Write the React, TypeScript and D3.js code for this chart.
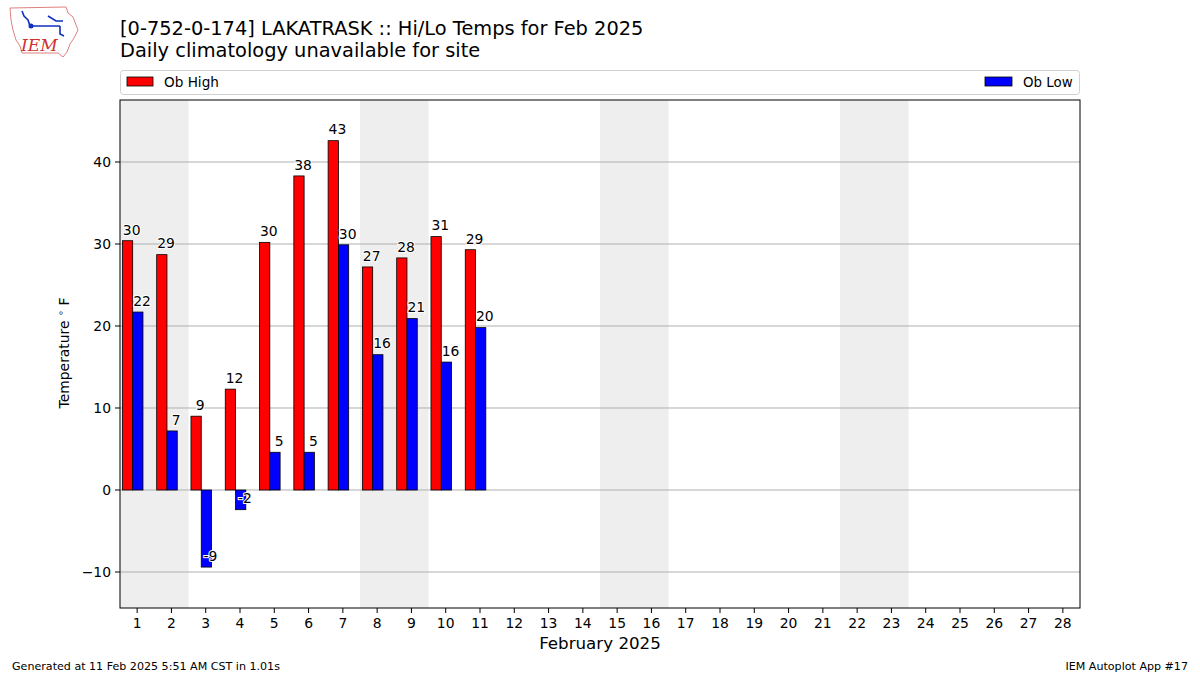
import React from "react";
import * as d3 from "d3";

const days: number[] = Array.from({ length: 28 }, (_, i) => i + 1);
const obDays: number[] = [1, 2, 3, 4, 5, 6, 7, 8, 9, 10, 11];
const obHigh: number[] = [30.4, 28.7, 9.0, 12.3, 30.2, 38.3, 42.6, 27.2, 28.3, 30.9, 29.3];
const obLow: number[] = [21.7, 7.2, -9.4, -2.4, 4.6, 4.6, 29.9, 16.5, 20.9, 15.6, 19.8];
const highLabels: string[] = ["30", "29", "9", "12", "30", "38", "43", "27", "28", "31", "29"];
const lowLabels: string[] = ["22", "7", "-9", "-2", "5", "5", "30", "16", "21", "16", "20"];
const weekendStarts: number[] = [1, 8, 15, 22];
const yTicks: number[] = [-10, 0, 10, 20, 30, 40];

const FONT = "DejaVu Sans, sans-serif";

export default function App() {
  const W = 1200, H = 675;
  const L = 120, R = 1080, T = 100, B = 608;
  const x = d3.scaleLinear().domain([0.5, 28.5]).range([L, R]);
  const y = d3.scaleLinear().domain([-14.39, 47.56]).range([B, T]);
  const bw = x(0.3) - x(0);

  return (
    <svg width={W} height={H} style={{ position: "absolute", left: 0, top: 0, background: "#fff" }} fontFamily={FONT}>
      <rect x={0} y={0} width={W} height={H} fill="#fff" />
      {/* logo */}
      <g>
        <path d="M10,8 L66,7 L68,13 L73,17 L78,30 L74,38 L70,44 L67,52 L63,57 L58,53 L22,53 L20,46 L16,40 L13,30 L11,20 Z" fill="#fff" stroke="#e08080" strokeWidth={1} />
        <path d="M22,11 L24,16 L28,20 L30,26 M30,26 L60,26 M48,16 L56,21 L63,21 M60,26 L60,34 L64,36" stroke="#1030c0" strokeWidth={1.6} fill="none" />
        <circle cx={31} cy={26} r={2.5} fill="#1030c0" />
        <text x={21} y={51} fontFamily="DejaVu Serif, serif" fontStyle="italic" fontSize={17} fill="#d03030">IEM</text>
      </g>
      {/* titles */}
      <text x={120} y={35} fontSize={19.4} fill="#000">[0-752-0-174] LAKATRASK :: Hi/Lo Temps for Feb 2025</text>
      <text x={120} y={57} fontSize={19.4} fill="#000">Daily climatology unavailable for site</text>
      {/* legend */}
      <rect x={120.5} y={70.5} width={959} height={24} rx={3} fill="#fff" stroke="#d0d0d0" />
      <rect x={127} y={77} width={26} height={9} fill="#ff0000" stroke="#000" strokeWidth={0.8} />
      <text x={164} y={86.5} fontSize={13.6} fill="#000">Ob High</text>
      <rect x={985} y={77} width={27} height={9} fill="#0000ff" stroke="#000" strokeWidth={0.8} />
      <text x={1023} y={86.5} fontSize={13.4} fill="#000">Ob Low</text>
      {/* weekend shading */}
      {weekendStarts.map((d) => (
        <rect key={d} x={x(d - 0.5)} y={T} width={x(d + 1.5) - x(d - 0.5)} height={B - T} fill="#eeeeee" />
      ))}
      {/* gridlines */}
      {yTicks.map((t) => (
        <line key={t} x1={L} x2={R} y1={y(t)} y2={y(t)} stroke="#b0b0b0" strokeWidth={1} />
      ))}
      {/* bars */}
      {obDays.map((d, i) => {
        const v = obHigh[i];
        const x0 = x(d - 0.43);
        return (
          <rect key={"h" + d} x={x0} y={Math.min(y(v), y(0))} width={bw} height={Math.abs(y(v) - y(0))} fill="#ff0000" stroke="#000" strokeWidth={0.8} />
        );
      })}
      {obDays.map((d, i) => {
        const v = obLow[i];
        const x0 = x(d - 0.13);
        return (
          <rect key={"l" + d} x={x0} y={Math.min(y(v), y(0))} width={bw} height={Math.abs(y(v) - y(0))} fill="#0000ff" stroke="#000" strokeWidth={0.8} />
        );
      })}
      {/* labels */}
      {obDays.map((d, i) => (
        <text key={"hl" + d} x={x(d - 0.13) - 1} y={y(obHigh[i] + 1) + 2} fontSize={13.9} textAnchor="middle" fill="#000" stroke="#fff" strokeWidth={2} paintOrder="stroke">{highLabels[i]}</text>
      ))}
      {obDays.map((d, i) => (
        <text key={"ll" + d} x={x(d + 0.17) - 1} y={y(obLow[i] + 1) + 2} fontSize={13.9} textAnchor="middle" fill="#000" stroke="#fff" strokeWidth={2} paintOrder="stroke">{lowLabels[i]}</text>
      ))}
      {/* frame */}
      <rect x={L} y={T} width={R - L} height={B - T} fill="none" stroke="#000" strokeWidth={1} />
      {/* y ticks */}
      {yTicks.map((t) => (
        <g key={"yt" + t}>
          <line x1={L - 5} x2={L} y1={y(t)} y2={y(t)} stroke="#000" />
          <text x={L - 9} y={y(t) + 5} fontSize={13.9} textAnchor="end" fill="#000">{t === -10 ? "\u221210" : t}</text>
        </g>
      ))}
      {/* x ticks */}
      {days.map((d) => (
        <g key={"xt" + d}>
          <line x1={x(d)} x2={x(d)} y1={B} y2={B + 5} stroke="#000" />
          <text x={x(d)} y={B + 20} fontSize={13.9} textAnchor="middle" fill="#000">{d}</text>
        </g>
      ))}
      <text x={(L + R) / 2} y={649} fontSize={16.7} textAnchor="middle" fill="#000">February 2025</text>
      <text transform={`translate(69,353) rotate(-90)`} fontSize={13.9} textAnchor="middle" fill="#000">
        Temperature <tspan fontSize={9.7} dy={-5}>{"\u2218"}</tspan><tspan dy={5}>{"\u00a0F"}</tspan>
      </text>
      {/* footer */}
      <text x={12} y={670} fontSize={11.1} fill="#000">Generated at 11 Feb 2025 5:51 AM CST in 1.01s</text>
      <text x={1188} y={670} fontSize={11.1} textAnchor="end" fill="#000">IEM Autoplot App #17</text>
    </svg>
  );
}
